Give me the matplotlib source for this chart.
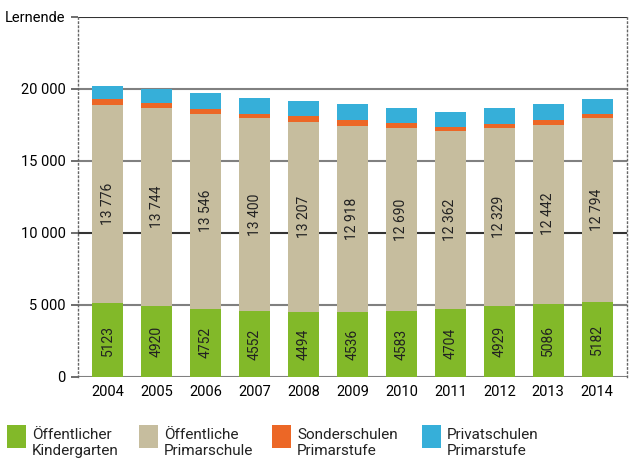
#Stacked bar chart of Lernende by school type, 2004-2014
import matplotlib
matplotlib.use("Agg")
import matplotlib.pyplot as plt
from matplotlib.patches import Rectangle

plt.rcParams['font.family'] = ['Roboto', 'DejaVu Sans']

#Data
years = ["2004", "2005", "2006", "2007", "2008", "2009", "2010", "2011", "2012", "2013", "2014"]
kindergarten = [5123, 4920, 4752, 4552, 4494, 4536, 4583, 4704, 4929, 5086, 5182]
primarschule = [13776, 13744, 13546, 13400, 13207, 12918, 12690, 12362, 12329, 12442, 12794]
sonderschulen = [395, 350, 345, 300, 440, 415, 370, 290, 330, 340, 305]
privatschulen = [920, 970, 1110, 1090, 1020, 1090, 1040, 1040, 1090, 1090, 1020]

series_names = ["Öffentlicher\nKindergarten", "Öffentliche\nPrimarschule",
                "Sonderschulen\nPrimarstufe", "Privatschulen\nPrimarstufe"]
colors = ["#82b929", "#c6bd9e", "#ec6726", "#36afd9"]

ytick_vals = [0, 5000, 10000, 15000, 20000, 25000]
ytick_labels = ["0", "5 000", "10 000", "15 000", "20 000", "Lernende"]

def fmt(v):
    #thousands separator as a space, only for numbers >= 10000
    return f"{v:,}".replace(",", " ") if v >= 10000 else str(v)

fig = plt.figure(figsize=(6.29, 4.63), dpi=100)
ax = fig.add_axes([78/629, 1-377/463, (627-78)/629, (377-17)/463])

x = list(range(len(years)))
width = 0.63
stack = [kindergarten, primarschule, sonderschulen, privatschulen]
bottom = [0]*len(years)
for vals, col in zip(stack, colors):
    ax.bar(x, vals, width, bottom=bottom, color=col, zorder=2, linewidth=0)
    bottom = [b+v for b, v in zip(bottom, vals)]

#Value labels inside green and beige segments
for i in x:
    ax.text(i, kindergarten[i]/2, fmt(kindergarten[i]), rotation=90,
            ha="center", va="center", fontsize=10, color="#222222", zorder=3)
    ax.text(i, kindergarten[i] + primarschule[i]/2, fmt(primarschule[i]), rotation=90,
            ha="center", va="center", fontsize=10, color="#222222", zorder=3)

#Gridlines
for v in ytick_vals:
    dark = v in (10000, 25000)
    ax.axhline(v, color="#333333" if dark else "#808080", lw=1.5, zorder=1)

ax.set_xlim(-0.61, 10.61)
ax.set_ylim(0, 25000)
ax.set_xticks(x)
ax.set_xticklabels(years, fontsize=10.5)
ax.set_yticks(ytick_vals)
ax.set_yticklabels(ytick_labels, fontsize=10.5)
ax.tick_params(axis="x", length=0, pad=6)
ax.tick_params(axis="y", length=5, width=1.2, color="#555555", pad=4)

for s in ["top", "bottom"]:
    ax.spines[s].set_visible(False)
for s in ["left", "right"]:
    ax.spines[s].set_linestyle((0, (1, 2)))
    ax.spines[s].set_color("#666666")
    ax.spines[s].set_linewidth(1.0)

#Legend built by hand at the bottom
legend_x = [7, 139, 272, 422]
for lx, name, col in zip(legend_x, series_names, colors):
    fig.add_artist(Rectangle((lx/629, 1-448/463), 19/629, 23/463,
                             transform=fig.transFigure, color=col, lw=0))
    fig.text((lx+25)/629, 1-443/463, name, fontsize=11, va="center",
             ha="left", linespacing=1.15, color="#222222")

plt.savefig("out.png", dpi=100)
plt.close(fig)
